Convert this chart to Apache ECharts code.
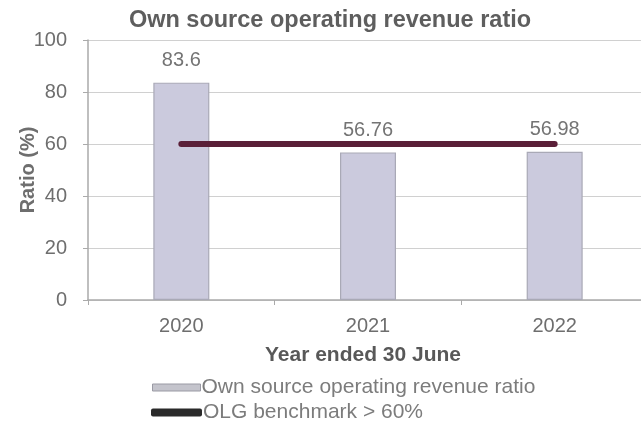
<!DOCTYPE html>
<html>
<head>
<meta charset="utf-8">
<script src="https://cdn.jsdelivr.net/npm/echarts@6/dist/echarts.min.js"></script>
<style>
  html, body { margin: 0; padding: 0; background: #fff; }
  #chart { width: 641px; height: 422px; }
</style>
</head>
<body>
<div id="chart"></div>
<script>
// Fiscal years (ended 30 June)
const years = ['2020', '2021', '2022'];
// Own source operating revenue ratio, %
const ownSourceRatio = [83.6, 56.76, 56.98];
// OLG benchmark level, %
const benchmark = [60, 60, 60];
const yTicks = [0, 20, 40, 60, 80, 100];

const chart = echarts.init(document.getElementById('chart'));
const textGray = '#6e6e6e';
const fontFam = '"Liberation Sans", Arial, sans-serif';
const barName = 'Own source operating revenue ratio';
const lineName = 'OLG benchmark > 60%';

const legendText = { fontSize: 21, color: '#7c7c7c', fontFamily: fontFam, padding: [0, 0, 0, -4] };

chart.setOption({
  animation: false,
  backgroundColor: '#ffffff',
  textStyle: { fontFamily: fontFam },
  title: {
    text: 'Own source operating revenue ratio',
    left: 325,
    textAlign: 'center',
    top: 4,
    textStyle: { fontSize: 23.5, fontWeight: 'bold', color: '#5e5e5e', fontFamily: fontFam }
  },
  grid: { left: 88, top: 40, width: 560, height: 260, outerBoundsMode: 'none', containLabel: false },
  legend: [
    {
      left: 147, top: 372, itemWidth: 48, itemHeight: 7,
      textStyle: legendText,
      data: [{ name: barName, icon: 'rect' }],
      itemStyle: { color: '#c4c4cc', borderColor: '#9a9aa4', borderWidth: 1 }
    },
    {
      left: 146, top: 397, itemWidth: 51, itemHeight: 8,
      textStyle: legendText,
      data: [{ name: lineName, icon: 'roundRect' }]
    }
  ],
  xAxis: {
    type: 'category',
    data: years,
    name: 'Year ended 30 June',
    nameLocation: 'middle',
    nameGap: 45,
    nameTextStyle: { fontSize: 21, fontWeight: 'bold', color: '#585858', padding: [0, 10, 0, 0] },
    axisLine: { lineStyle: { color: '#aaaaaa', width: 1.5 } },
    axisTick: { show: true, alignWithLabel: false, length: 5, lineStyle: { color: '#aaaaaa' } },
    axisLabel: { fontSize: 20, color: textGray, margin: 16 }
  },
  yAxis: {
    type: 'value',
    min: yTicks[0],
    max: yTicks[yTicks.length - 1],
    interval: 20,
    name: 'Ratio (%)',
    nameLocation: 'middle',
    nameGap: 50,
    nameMoveOverlap: false,
    nameRotate: 90,
    nameTextStyle: { fontSize: 20, fontWeight: 'bold', color: '#6e6e6e' },
    axisLine: { show: true, lineStyle: { color: '#aaaaaa', width: 1.5 } },
    axisTick: { show: true, length: 5, lineStyle: { color: '#aaaaaa' } },
    axisLabel: { fontSize: 20, color: textGray, margin: 21 },
    splitLine: { show: true, lineStyle: { color: '#d0d0d0', width: 1.2 } }
  },
  series: [
    {
      name: barName,
      type: 'bar',
      data: ownSourceRatio,
      barWidth: '30%',
      itemStyle: { color: '#cbcadd', borderColor: '#a9a9b6', borderWidth: 1.2 },
      label: {
        show: true,
        position: 'top',
        distance: 12,
        fontSize: 20,
        color: '#747474',
        formatter: p => String(p.value)
      },
      z: 2
    },
    {
      name: lineName,
      type: 'line',
      data: benchmark,
      symbol: 'none',
      lineStyle: { color: '#5a1f38', width: 6, cap: 'round' },
      itemStyle: { color: '#2a2a2a' },
      z: 3
    }
  ]
});
</script>
</body>
</html>
